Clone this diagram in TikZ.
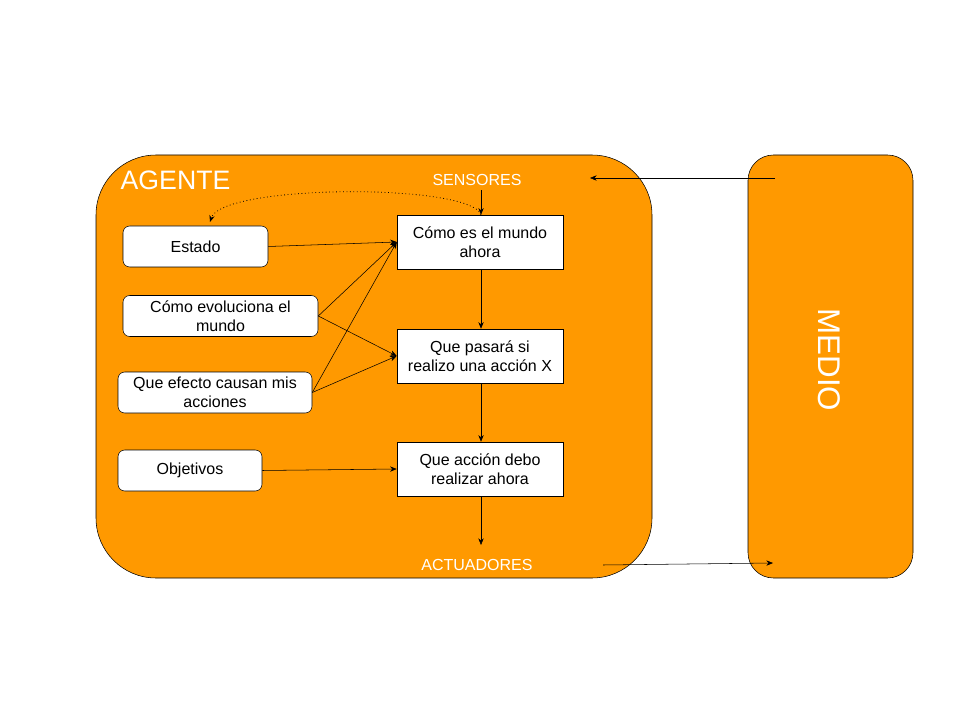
\documentclass[tikz,border=0pt]{standalone}
\usepackage{fontspec}
\setmainfont{Liberation Sans}
\usetikzlibrary{arrows.meta}
\definecolor{naranja}{HTML}{FF9900}

\begin{document}
\begin{tikzpicture}[x = 0.75pt, y = -0.75pt,
    bloque/.style = {draw, fill=white, rounded corners=5pt, align=center, font=\fontsize{12}{14.25}\selectfont, minimum height=30.75pt},
    paso/.style = {draw, fill=white, align=center, font=\fontsize{12}{14.25}\selectfont, minimum width=124.5pt, minimum height=40.5pt},
    flecha/.style = {-{Stealth[length=5pt,width=4pt]}},
    rotulo/.style = {text=white, font=\fontsize{12}{14}\selectfont}]
    \useasboundingbox (0,0) rectangle (960,720);
    % agente y medio
    \draw[fill=naranja, rounded corners=45pt] (96,155) rectangle (652,578);
    \draw[fill=naranja, rounded corners=19pt] (748,155) rectangle (913,578);
    \node[text=white, font=\fontsize{20}{24}\selectfont, anchor=west] (agente) at (116,180) {AGENTE};
    \node[text=white, font=\fontsize{23.5}{28}\selectfont, rotate=-90] (medio) at (829,360) {MEDIO};
    \node[rotulo] (sensores) at (477,180) {SENSORES};
    \node[rotulo] (actuadores) at (477,565) {ACTUADORES};
    % bloques de conocimiento
    \node[bloque, minimum width=108.75pt] (estado) at (195.5,246.5) {Estado};
    \node[bloque, minimum width=146.25pt] (evoluciona) at (220.5,316) {Cómo evoluciona el\\mundo};
    \node[bloque, minimum width=145.5pt] (efecto) at (215,392.5) {Que efecto causan mis\\acciones};
    \node[bloque, minimum width=108pt] (objetivos) at (190,470.5) {Objetivos};
    % pasos
    \node[paso] (mundo) at (480,242) {Cómo es el mundo\\ahora};
    \node[paso] (pasara) at (480,356) {Que pasará si\\realizo una acción X};
    \node[paso] (accion) at (480,469) {Que acción debo\\realizar ahora};
    \coordinate (salida) at (481,545);
    \coordinate (medioarriba) at (775,178);
    \coordinate (agentearriba) at (590,178);
    \coordinate (agenteabajo) at (603,565);
    \coordinate (medioabajo) at (773,563);
    % conexiones
    \draw[flecha] (sensores.south -| 481,0) -- (mundo.north -| 481,0);
    \draw[flecha] (mundo.south -| 481,0) -- (pasara.north -| 481,0);
    \draw[flecha] (pasara.south -| 481,0) -- (accion.north -| 481,0);
    \draw[flecha] (accion.south -| 481,0) -- (salida);
    \draw[flecha] (estado.east) -- (mundo.west);
    \draw[flecha] (evoluciona.east) -- (pasara.west);
    \draw[flecha] (evoluciona.east) -- (mundo.west);
    \draw[flecha] (efecto.east) -- (mundo.west);
    \draw[flecha] (efecto.east) -- (pasara.west);
    \draw[flecha] (objetivos.east) -- (accion.west);
    \draw[flecha, dotted, line width=0.6pt] (mundo.north -| 481,0) .. controls (470,183) and (222,184) .. (210,222);
    \draw[flecha] (medioarriba) -- (agentearriba);
    \draw[flecha] (agenteabajo) -- (medioabajo);
\end{tikzpicture}
\end{document}
